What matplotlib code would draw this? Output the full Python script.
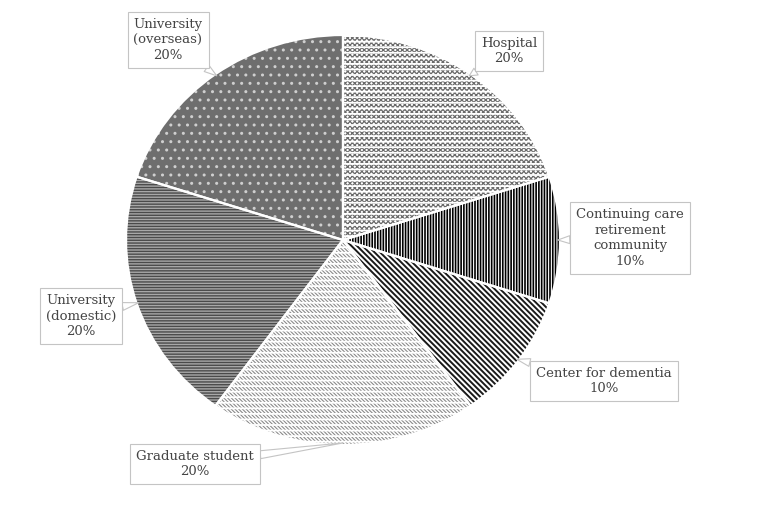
import numpy as np
import matplotlib
matplotlib.use("Agg")
import matplotlib.pyplot as plt

labels = ["Hospital", "Continuing care\nretirement\ncommunity", "Center for dementia",
          "Graduate student", "University\n(domestic)", "University\n(overseas)"]
shares = [20, 10, 10, 20, 20, 20]

# fill / hatch style for each slice (base layer)
faces = ["white", "black", "white", "white", "#a8a8a8", "#6e6e6e"]
hatch_cols = ["#6a6a6a", "white", "#1a1a1a", "#8a8a8a", "#4a4a4a", "#cfcfcf"]
hatches = ["xxxxxxx", "||||||", "\\" * 6, "\\" * 9, "------", ".."]
hatch_lw = [0.9, 0.8, 1.4, 0.8, 1.0, 1.0]
# white gaps on top (turns the texture into rows)
over_hatch = ["---", "", "", "---", "", ""]

# label box centres in figure pixels (from top-left)
box_px = [(509, 51), (630, 238), (604, 381), (195, 464), (81, 316), (168, 40)]

W, H = 759, 509
fig = plt.figure(figsize=(W / 100, H / 100), dpi=100)
# pie drawn as a slight ellipse like the original
cx, cy, rx, ry = 343, 240, 217, 205
ax = fig.add_axes([(cx - rx) / W, (H - cy - ry) / H, 2 * rx / W, 2 * ry / H])

wedges, _ = ax.pie(shares, startangle=90, counterclock=False, radius=1.0)
for w, fc, hc, h, lw in zip(wedges, faces, hatch_cols, hatches, hatch_lw):
    w.set_facecolor(fc)
    w.set_edgecolor(hc)
    w.set_linewidth(0)
    w.set_hatch(h)
    if hasattr(w, "set_hatch_linewidth"):
        w.set_hatch_linewidth(lw)

top, _ = ax.pie(shares, startangle=90, counterclock=False, radius=1.0,
                wedgeprops=dict(facecolor="none", edgecolor="white", linewidth=1.6))
for w, h in zip(top, over_hatch):
    w.set_hatch(h)
    if hasattr(w, "set_hatch_linewidth"):
        w.set_hatch_linewidth(1.3)

ax.set_aspect("auto")
ax.set_xlim(-1, 1)
ax.set_ylim(-1, 1)
ax.axis("off")

total = sum(shares)
for w, lab, val, (bx, by) in zip(wedges, labels, shares, box_px):
    mid = np.deg2rad((w.theta1 + w.theta2) / 2)
    tx, ty = 0.99 * np.cos(mid), 0.99 * np.sin(mid)
    ax.annotate(f"{lab}\n{val / total * 100:.0f}%", xy=(tx, ty), xycoords="data",
                xytext=(bx, H - by), textcoords="figure pixels",
                ha="center", va="center", fontsize=9.5, family="DejaVu Serif",
                color="#444444", linespacing=1.25, annotation_clip=False,
                bbox=dict(boxstyle="square,pad=0.45", fc="white", ec="#c4c4c4", lw=0.8),
                arrowprops=dict(arrowstyle="wedge,tail_width=0.6", fc="white",
                                ec="#c4c4c4", lw=0.8, shrinkA=0, shrinkB=0))

fig.savefig("out.png", dpi=100, facecolor="white")
